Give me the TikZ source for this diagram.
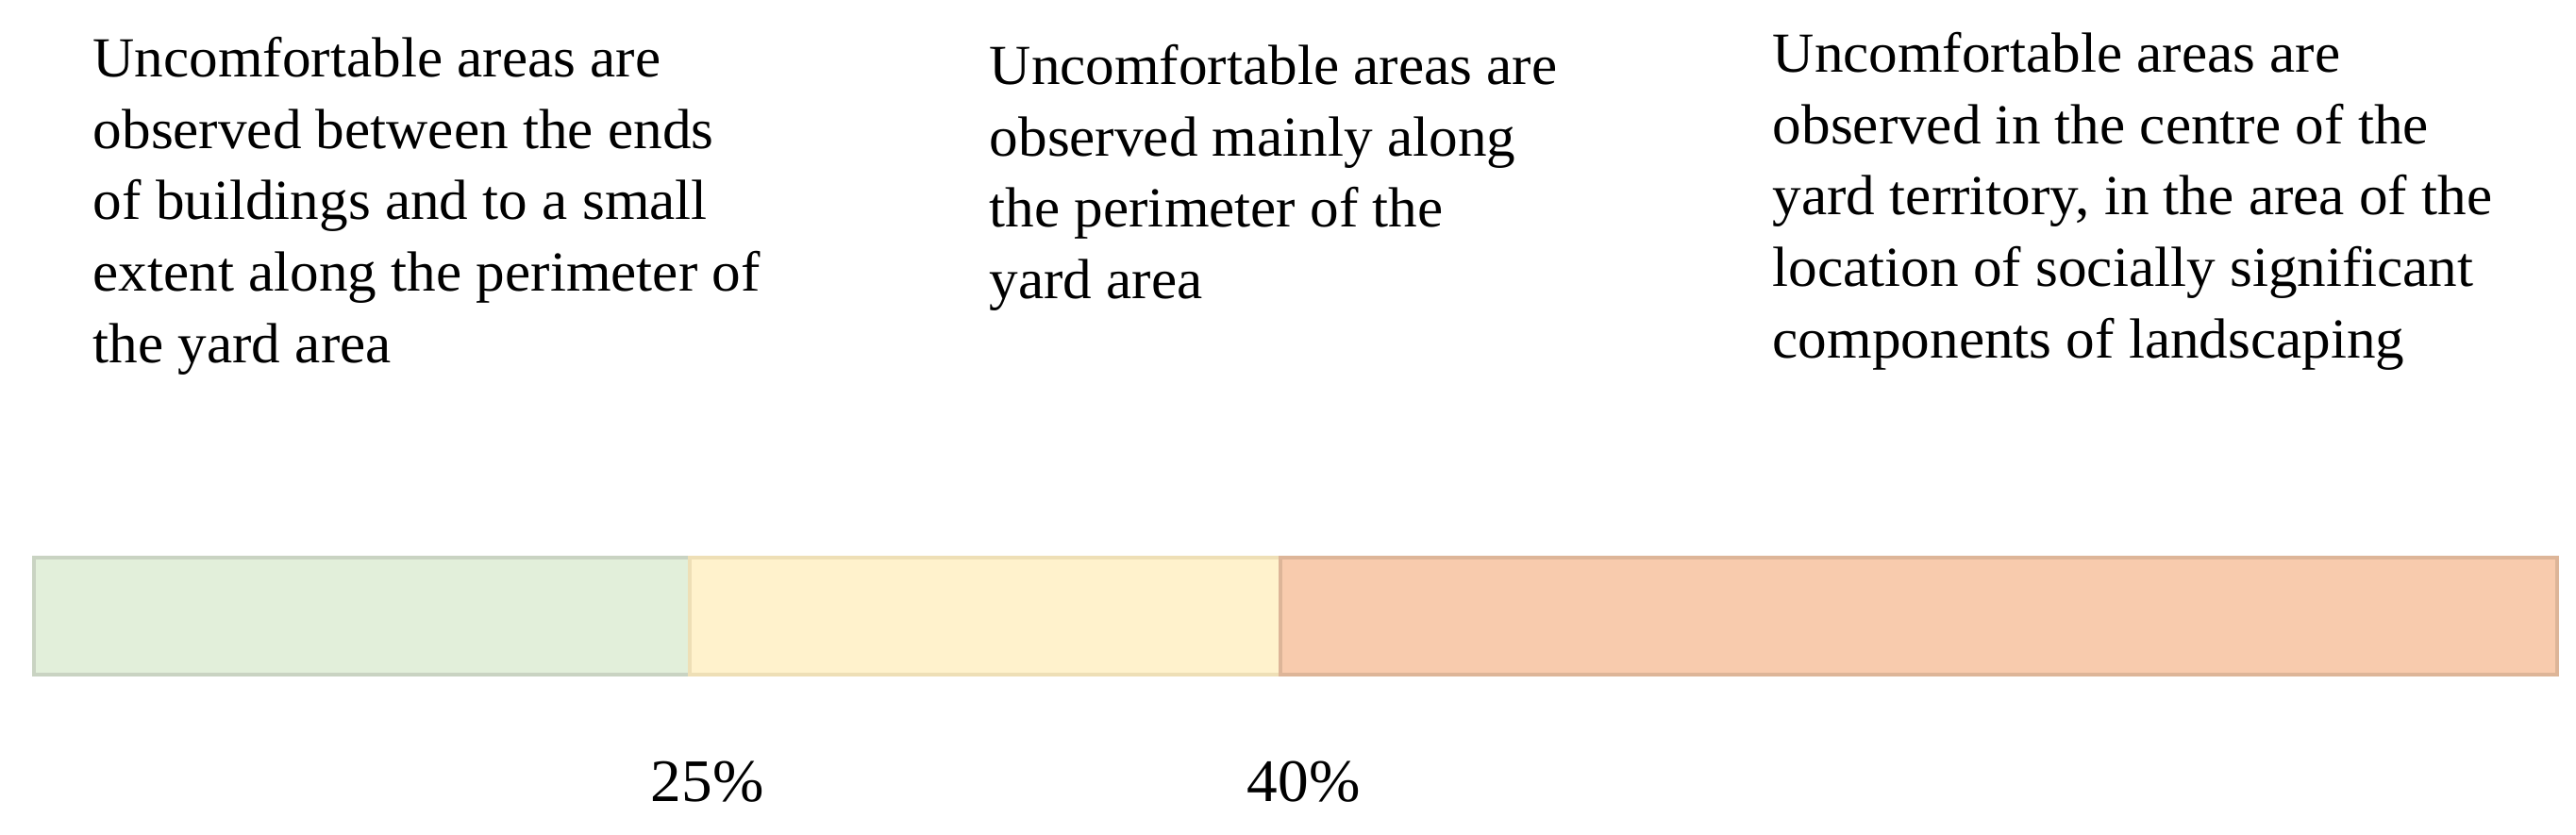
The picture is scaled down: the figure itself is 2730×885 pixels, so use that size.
\documentclass[tikz,border=0pt]{standalone}
\usepackage{fontspec}
\setmainfont{Liberation Serif}
\newfontfamily\widefont[FakeStretch=1.02]{Liberation Serif}
\definecolor{gfill}{HTML}{E2EFDA}
\definecolor{gline}{HTML}{C9D3C2}
\definecolor{yfill}{HTML}{FFF2CC}
\definecolor{yline}{HTML}{EEDFB6}
\definecolor{ofill}{HTML}{F8CBAD}
\definecolor{oline}{HTML}{DDB598}
\tikzset{
  desc/.style={anchor=north west, inner sep=0pt, align=left,
    font=\fontsize{15pt}{18.9pt}\selectfont\widefont},
  pct/.style={anchor=base west, inner sep=0pt,
    font=\fontsize{16pt}{18pt}\selectfont\widefont},
  seg/.style={line width=1pt}
}
\newcommand{\topstrut}{\rule{0pt}{11pt}}
\begin{document}
\begin{tikzpicture}[x=0.25pt,y=-0.25pt]
\useasboundingbox[fill=white] (0,0) rectangle (2730,885);
% bar segments
\draw[seg, draw=gline, fill=gfill] (36,591) rectangle (731,715);
\draw[seg, draw=yline, fill=yfill] (731,591) rectangle (1357,715);
\draw[seg, draw=oline, fill=ofill] (1357,591) rectangle (2710,715);
% descriptions
\node[desc] (left) at (98,37) {\topstrut Uncomfortable areas are\\observed between the ends\\of buildings and to a small\\extent along the perimeter of\\the yard area};
\node[desc] (mid) at (1048,45) {\topstrut Uncomfortable areas are\\observed mainly along\\the perimeter of the\\yard area};
\node[desc] (right) at (1878,32) {\topstrut Uncomfortable areas are\\observed in the centre of the\\yard territory, in the area of the\\location of socially significant\\components of landscaping};
% percentages
\node[pct] (p25) at (689,850) {25\%};
\node[pct] (p40) at (1321,850) {40\%};
\end{tikzpicture}
\end{document}
